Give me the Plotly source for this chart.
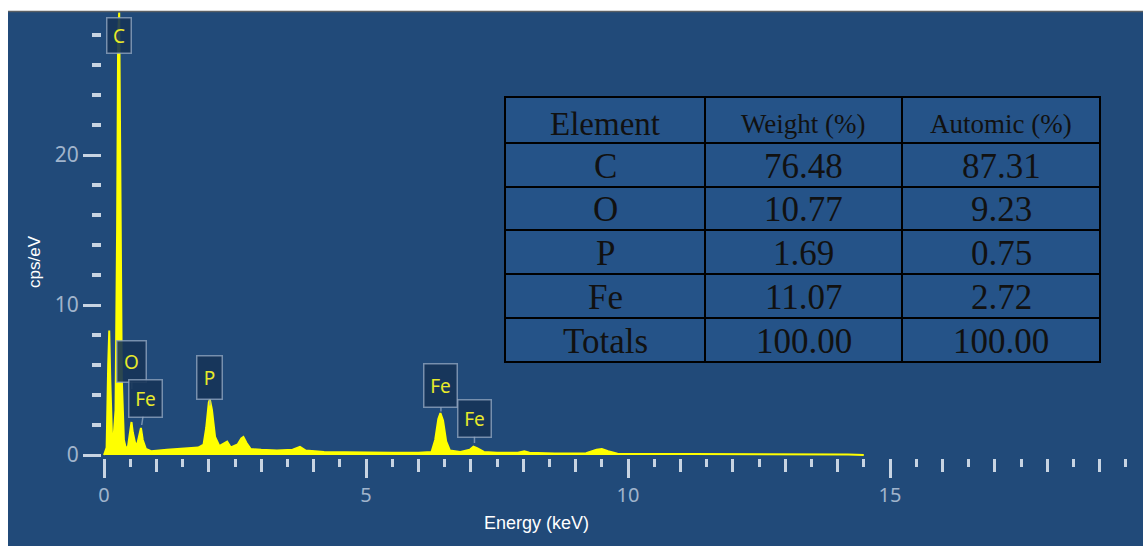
import plotly.graph_objects as go

# ---------------- data ----------------
energy_kev = [0.00, 0.05, 0.08, 0.10, 0.12, 0.15, 0.18, 0.22, 0.25, 0.27, 0.29, 0.31, 0.34, 0.38,
              0.42, 0.46, 0.50, 0.525, 0.55, 0.60, 0.64, 0.68, 0.705, 0.74, 0.80, 0.90, 1.00,
              1.20, 1.40, 1.60, 1.80, 1.90, 1.95, 2.00, 2.02, 2.06, 2.12, 2.20, 2.30, 2.35,
              2.42, 2.55, 2.62, 2.66, 2.72, 2.80, 3.00, 3.30, 3.60, 3.74, 3.85, 4.20, 4.60,
              5.00, 5.50, 6.00, 6.25, 6.32, 6.38, 6.42, 6.47, 6.53, 6.60, 6.80, 6.98, 7.05,
              7.12, 7.25, 7.50, 7.90, 8.02, 8.12, 8.60, 9.20, 9.40, 9.50, 9.62, 9.80, 10.5,
              11.5, 12.5, 13.5, 14.2, 14.5]
cps_per_ev = [0.0, 0.5, 6.0, 8.3, 5.0, 1.5, 1.0, 3.0, 15.0, 28.0, 29.5, 20.0, 5.0, 1.0,
              0.4, 0.6, 1.8, 2.2, 1.5, 0.7, 0.8, 1.5, 1.8, 1.0, 0.4, 0.25, 0.3,
              0.35, 0.4, 0.45, 0.5, 0.7, 1.8, 3.5, 3.7, 3.0, 1.2, 0.6, 0.8, 0.9,
              0.5, 0.7, 1.1, 1.2, 0.8, 0.4, 0.35, 0.3, 0.35, 0.55, 0.3, 0.2, 0.18,
              0.15, 0.15, 0.15, 0.2, 1.0, 2.4, 2.8, 2.3, 0.9, 0.3, 0.2, 0.35, 0.55,
              0.45, 0.2, 0.15, 0.15, 0.25, 0.15, 0.1, 0.12, 0.35, 0.4, 0.25, 0.08, 0.08,
              0.07, 0.07, 0.06, 0.04, 0.0]

peak_labels = ["O", "Fe", "P", "Fe", "Fe"]
peak_energy = [0.53, 0.72, 2.02, 6.43, 7.07]
peak_tip_cps = [4.4, 2.0, 3.3, 2.9, 0.8]
c_label_energy = 0.29
c_label_cps = 28.0

table_headers = ["Element", "Weight (%)", "Automic (%)"]
elements = ["C", "O", "P", "Fe", "Totals"]
weight_pct = ["76.48", "10.77", "1.69", "11.07", "100.00"]
atomic_pct = ["87.31", "9.23", "0.75", "2.72", "100.00"]

# ---------------- layout constants ----------------
W, H = 1143, 546
BG = "rgb(33,74,121)"
TABLE_BG = "rgb(37,83,136)"
TICK_C = "rgb(200,212,226)"
LABEL_C = "rgb(160,180,204)"
YELLOW = "#ffff00"

def px(xp):
    return xp / W

def py(yp):
    return 1 - yp / H

fig = go.Figure()

fig.add_trace(go.Scatter(
    x=energy_kev, y=cps_per_ev, mode="lines", fill="tozeroy",
    line=dict(color=YELLOW, width=2), fillcolor=YELLOW,
    hoverinfo="skip", showlegend=False))

# helper trace for the half-keV tick axis
fig.add_trace(go.Scatter(x=energy_kev[:1], y=cps_per_ev[:1], xaxis="x2", yaxis="y",
                         mode="markers", marker=dict(opacity=0), hoverinfo="skip",
                         showlegend=False))

x_dom = [px(102), 1.0]
x_rng = [-2 / 52.4, (W - 104) / 52.4]
y_dom = [py(458), py(11)]
y_rng = [-0.2, 29.6]

tickfont = dict(family="Noto Sans", size=20, color=LABEL_C)

fig.update_layout(
    width=W, height=H,
    margin=dict(l=0, r=0, t=0, b=0, autoexpand=False),
    paper_bgcolor=BG, plot_bgcolor="rgba(0,0,0,0)",
    xaxis=dict(domain=x_dom, range=x_rng, showgrid=False, zeroline=False, showline=False,
               automargin=False,
               tickmode="linear", tick0=0, dtick=5, ticks="outside", ticklen=19,
               tickwidth=3, tickcolor=TICK_C, tickfont=tickfont,
               minor=dict(tickmode="linear", tick0=0, dtick=1, ticks="outside", ticklen=13,
                          tickwidth=3, tickcolor=TICK_C, showgrid=False)),
    xaxis2=dict(domain=x_dom, range=x_rng, overlaying="x", anchor="y", showgrid=False,
                automargin=False,
                zeroline=False, showline=False, tickmode="linear", tick0=0, dtick=0.5,
                ticks="outside", ticklen=8, tickwidth=3, tickcolor=TICK_C,
                showticklabels=False),
    yaxis=dict(domain=y_dom, range=y_rng, showgrid=False, zeroline=False, showline=False,
               automargin=False,
               tickmode="linear", tick0=0, dtick=10, ticks="outside", ticklen=18,
               tickwidth=3, tickcolor=TICK_C, tickfont=dict(family="Noto Sans", size=21,
                                                            color=LABEL_C),
               minor=dict(tickmode="linear", tick0=0, dtick=2, ticks="outside", ticklen=9,
                          tickwidth=4, tickcolor=TICK_C, showgrid=False)),
)

shapes = []
# white frame at top and left
shapes.append(dict(type="rect", xref="paper", yref="paper", x0=0, x1=1, y0=py(11), y1=1,
                   fillcolor="white", line=dict(width=0), layer="above"))
shapes.append(dict(type="line", xref="paper", yref="paper", x0=px(8), x1=1, y0=py(11.5),
                   y1=py(11.5), line=dict(color="rgb(90,95,100)", width=1.5), layer="above"))
shapes.append(dict(type="rect", xref="paper", yref="paper", x0=0, x1=px(8), y0=0, y1=1,
                   fillcolor="white", line=dict(width=0), layer="above"))

# table
col_edges = [505, 705, 902, 1100]
row_edges = [97, 143, 187, 230, 274, 318, 362]
shapes.append(dict(type="rect", xref="paper", yref="paper", x0=px(col_edges[0]),
                   x1=px(col_edges[-1]), y0=py(row_edges[-1]), y1=py(row_edges[0]),
                   fillcolor=TABLE_BG, line=dict(color="black", width=2), layer="above"))
for c in col_edges[1:-1]:
    shapes.append(dict(type="line", xref="paper", yref="paper", x0=px(c), x1=px(c),
                       y0=py(row_edges[-1]), y1=py(row_edges[0]),
                       line=dict(color="black", width=2), layer="above"))
for r in row_edges[1:-1]:
    shapes.append(dict(type="line", xref="paper", yref="paper", x0=px(col_edges[0]),
                       x1=px(col_edges[-1]), y0=py(r), y1=py(r),
                       line=dict(color="black", width=2), layer="above"))

annotations = []
# axis titles
annotations.append(dict(xref="paper", yref="paper", x=px(536), y=py(523), text="Energy (keV)",
                        showarrow=False, xanchor="center", yanchor="middle",
                        font=dict(family="Liberation Sans", size=18, color="white")))
annotations.append(dict(xref="paper", yref="paper", x=px(34), y=py(262), text="cps/eV",
                        showarrow=False, xanchor="center", yanchor="middle", textangle=-90,
                        font=dict(family="Liberation Sans", size=17, color="white")))

col_centers = [(col_edges[i] + col_edges[i + 1]) / 2 for i in range(3)]
row_centers = [(row_edges[i] + row_edges[i + 1]) / 2 for i in range(6)]
header_sizes = [33, 27, 27]
for i, h in enumerate(table_headers):
    annotations.append(dict(xref="paper", yref="paper", x=px(col_centers[i]),
                            y=py(row_centers[0] + 4), text=h, showarrow=False,
                            xanchor="center", yanchor="middle",
                            font=dict(family="Liberation Serif", size=header_sizes[i],
                                      color="#111111")))
for j, row in enumerate(zip(elements, weight_pct, atomic_pct)):
    for i, val in enumerate(row):
        annotations.append(dict(xref="paper", yref="paper", x=px(col_centers[i]),
                                y=py(row_centers[j + 1] + 1), text=val, showarrow=False,
                                xanchor="center", yanchor="middle",
                                font=dict(family="Liberation Serif", size=35,
                                          color="#111111")))

# peak labels
lab_font = dict(family="Noto Sans", size=19, color="#e8ea2a")
box_kw = dict(bgcolor="rgba(22,52,88,0.9)", bordercolor="rgba(150,170,195,0.75)",
              borderwidth=1.5, borderpad=3)
annotations.append(dict(x=c_label_energy, y=c_label_cps, xref="x", yref="y", text="C",
                        showarrow=False, font=lab_font, height=28, width=17, **box_kw))
offsets = [(0, -28), (4, -27), (0, -28), (0, -26), (0, -25)]
box_h = [34, 30, 36, 36, 30]
box_w = [22, 26, 18, 26, 26]
for lab, e, t, (ax, ay), bh, bw in zip(peak_labels, peak_energy, peak_tip_cps, offsets,
                                         box_h, box_w):
    annotations.append(dict(x=e, y=t, xref="x", yref="y", text=lab, showarrow=True,
                            arrowhead=0, arrowwidth=1.5, arrowcolor="rgba(150,170,195,0.75)",
                            ax=ax, ay=ay, standoff=0, font=lab_font, height=bh, width=bw,
                            **box_kw))

fig.update_layout(shapes=shapes, annotations=annotations)

fig.write_html("out.html")
